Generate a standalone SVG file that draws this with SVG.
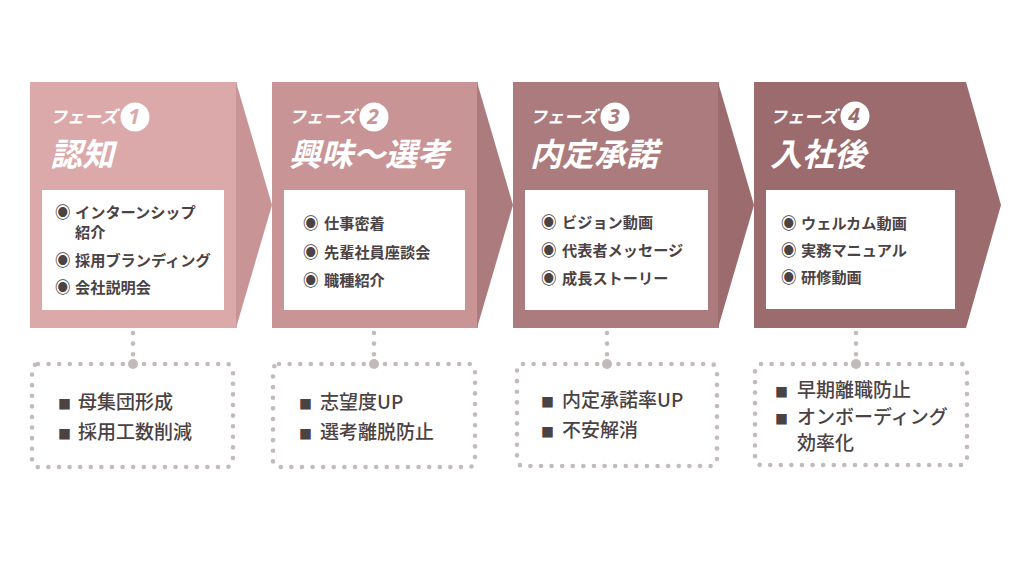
<svg xmlns="http://www.w3.org/2000/svg" width="1024" height="576" viewBox="0 0 1024 576">
<style>
.ph{font-family:"Noto Sans CJK JP","Noto Sans",sans-serif;font-weight:bold;font-style:italic;fill:#ffffff;font-size:17px}
.tt{font-family:"Noto Sans CJK JP","Noto Sans",sans-serif;font-weight:bold;font-style:italic;fill:#ffffff;font-size:32px}
.num{font-family:"Noto Sans","Noto Sans CJK JP",sans-serif;font-weight:bold;font-style:italic;font-size:21px;text-anchor:middle}
.it{font-family:"Noto Sans CJK JP","Noto Sans",sans-serif;font-weight:bold;fill:#4b4244;font-size:15.2px}
.bl{font-size:15.5px}
.lo{font-family:"Noto Sans CJK JP","Noto Sans",sans-serif;font-weight:500;fill:#4b4244;font-size:19px}
.sq{font-size:13px}
.wb{fill:#ffffff}
.dot{fill:none;stroke:#c4baba;stroke-width:4.6;stroke-linecap:round;stroke-dasharray:0 10.6}
.jn{fill:#c4baba}
</style>
<rect width="1024" height="576" fill="#ffffff"/>

<g id="phase1">
<rect x="30" y="82" width="207" height="246" fill="#dba9aa"/>
<polygon points="236,82 272,205 236,328" fill="#c99496"/>
<rect class="wb" x="42" y="190" width="182" height="120"/>
<text class="ph" x="50" y="123">フェーズ</text>
<circle cx="135" cy="117" r="14.5" fill="#ffffff"/>
<text class="num" x="134" y="124" fill="#dba9aa">1</text>
<text class="tt" x="50" y="166">認知</text>
<text class="it" x="55" y="218"><tspan class="bl">◉ </tspan><tspan x="75">インターンシップ</tspan></text>
<text class="it" x="75" y="238">紹介</text>
<text class="it" x="55" y="266"><tspan class="bl">◉ </tspan><tspan x="75">採用ブランディング</tspan></text>
<text class="it" x="55" y="293"><tspan class="bl">◉ </tspan><tspan x="75">会社説明会</tspan></text>
</g>

<g id="phase2">
<rect x="272" y="82" width="206" height="246" fill="#c99496"/>
<polygon points="477,82 513,205 477,328" fill="#ac7b7d"/>
<rect class="wb" x="284" y="190" width="181" height="120"/>
<text class="ph" x="289" y="123">フェーズ</text>
<circle cx="374" cy="117" r="14.5" fill="#ffffff"/>
<text class="num" x="373" y="124" fill="#c99496">2</text>
<text class="tt" x="289" y="166">興味〜選考</text>
<text class="it" x="303" y="229"><tspan class="bl">◉ </tspan><tspan x="324">仕事密着</tspan></text>
<text class="it" x="303" y="258"><tspan class="bl">◉ </tspan><tspan x="324">先輩社員座談会</tspan></text>
<text class="it" x="303" y="286"><tspan class="bl">◉ </tspan><tspan x="324">職種紹介</tspan></text>
</g>

<g id="phase3">
<rect x="513" y="82" width="206" height="246" fill="#ac7b7d"/>
<polygon points="718,82 754,205 718,328" fill="#9b6b6d"/>
<rect class="wb" x="525" y="190" width="183" height="120"/>
<text class="ph" x="530" y="123">フェーズ</text>
<circle cx="615" cy="117" r="14.5" fill="#ffffff"/>
<text class="num" x="614" y="124" fill="#ac7b7d">3</text>
<text class="tt" x="530" y="166">内定承諾</text>
<text class="it" x="541" y="228"><tspan class="bl">◉ </tspan><tspan x="562">ビジョン動画</tspan></text>
<text class="it" x="541" y="256"><tspan class="bl">◉ </tspan><tspan x="562">代表者メッセージ</tspan></text>
<text class="it" x="541" y="284"><tspan class="bl">◉ </tspan><tspan x="562">成長ストーリー</tspan></text>
</g>

<g id="phase4">
<polygon points="754,82 966,82 1001,205 966,328 754,328" fill="#9b6b6d"/>
<rect class="wb" x="766" y="190" width="189" height="119"/>
<text class="ph" x="770" y="123">フェーズ</text>
<circle cx="855" cy="116" r="14.5" fill="#ffffff"/>
<text class="num" x="854" y="123" fill="#9b6b6d">4</text>
<text class="tt" x="770" y="166">入社後</text>
<text class="it" x="781" y="229"><tspan class="bl">◉ </tspan><tspan x="801">ウェルカム動画</tspan></text>
<text class="it" x="781" y="256"><tspan class="bl">◉ </tspan><tspan x="801">実務マニュアル</tspan></text>
<text class="it" x="781" y="283"><tspan class="bl">◉ </tspan><tspan x="801">研修動画</tspan></text>
</g>

<g id="connectors">
<line class="dot" x1="133" y1="333" x2="133" y2="364"/>
<line class="dot" x1="374" y1="333" x2="374" y2="364"/>
<line class="dot" x1="607" y1="333" x2="607" y2="364"/>
<line class="dot" x1="856" y1="333" x2="856" y2="364"/>
<circle class="jn" cx="133" cy="364" r="5"/>
<circle class="jn" cx="374" cy="364" r="5"/>
<circle class="jn" cx="607" cy="364" r="5"/>
<circle class="jn" cx="856" cy="364" r="5"/>
</g>

<g id="effect1">
<rect class="dot" x="32" y="364" width="201" height="103" rx="6"/>
<text class="lo" x="58" y="409"><tspan class="sq">■ </tspan><tspan x="78">母集団形成</tspan></text>
<text class="lo" x="58" y="439"><tspan class="sq">■ </tspan><tspan x="78">採用工数削減</tspan></text>
</g>

<g id="effect2">
<rect class="dot" x="273" y="364" width="202" height="103" rx="6"/>
<text class="lo" x="299" y="409"><tspan class="sq">■ </tspan><tspan x="320">志望度UP</tspan></text>
<text class="lo" x="299" y="439"><tspan class="sq">■ </tspan><tspan x="320">選考離脱防止</tspan></text>
</g>

<g id="effect3">
<rect class="dot" x="517" y="364" width="200" height="102" rx="6"/>
<text class="lo" x="541" y="407"><tspan class="sq">■ </tspan><tspan x="562">内定承諾率UP</tspan></text>
<text class="lo" x="541" y="437"><tspan class="sq">■ </tspan><tspan x="562">不安解消</tspan></text>
</g>

<g id="effect4">
<rect class="dot" x="755" y="364" width="212" height="101" rx="6"/>
<text class="lo" x="775" y="397"><tspan class="sq">■ </tspan><tspan x="797">早期離職防止</tspan></text>
<text class="lo" x="775" y="424"><tspan class="sq">■ </tspan><tspan x="797">オンボーディング</tspan></text>
<text class="lo" x="797" y="450">効率化</text>
</g>
</svg>
